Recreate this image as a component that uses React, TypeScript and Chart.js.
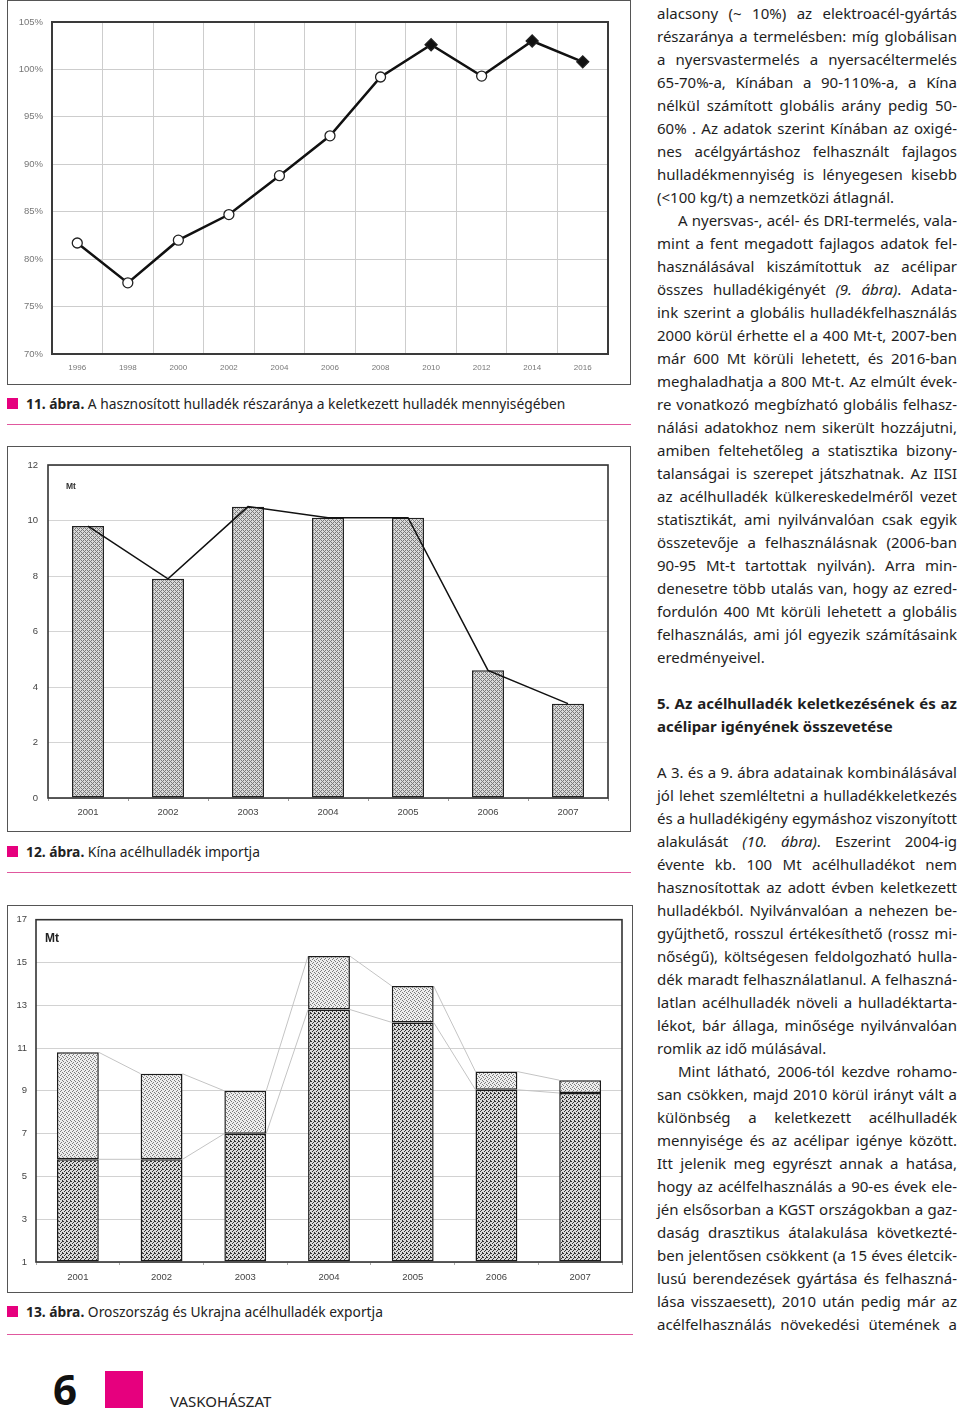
import React, { useEffect, useLayoutEffect, useRef } from 'react';
import { Chart, registerables } from 'chart.js';

Chart.register(...registerables);

// ---------- DATA ----------
// 11. ábra – share of recycled scrap (%)
const recycleYears = ['1996', '1998', '2000', '2002', '2004', '2006', '2008', '2010', '2012', '2014', '2016'];
const recycleShare = [81.7, 77.5, 82.0, 84.7, 88.8, 93.0, 99.2, 102.6, 99.3, 103.0, 100.8];
const recycleFilled = [false, false, false, false, false, false, false, true, false, true, true];
const shareMin = 70;
const shareMax = 105;
const shareStep = 5;

// 12. ábra – China scrap import (Mt)
const importYears = ['2001', '2002', '2003', '2004', '2005', '2006', '2007'];
const chinaImport = [9.8, 7.9, 10.5, 10.1, 10.1, 4.6, 3.4];
const importMin = 0;
const importMax = 12;
const importStep = 2;

// 13. ábra – Russia & Ukraine scrap export (Mt)
const exportYears = ['2001', '2002', '2003', '2004', '2005', '2006', '2007'];
const exportLower = [5.8, 5.8, 7.0, 12.8, 12.2, 9.05, 8.9];
const exportUpper = [5.0, 4.0, 2.0, 2.5, 1.7, 0.85, 0.6];
const exportMin = 1;
const exportMax = 17;
const exportStep = 2;

// ---------- TEXT ----------
type Kind = 'j' | 'l' | 'i' | 'h' | 'hl' | 'blank';
const columnLines: [string, Kind][] = [
  ['alacsony (~ 10%) az elektroacél-gyártás', 'j'],
  ['részaránya a termelésben: míg globálisan', 'j'],
  ['a nyersvastermelés a nyersacéltermelés', 'j'],
  ['65-70%-a, Kínában a 90-110%-a, a Kína', 'j'],
  ['nélkül számított  globális arány pedig 50-', 'j'],
  ['60% . Az adatok szerint Kínában az oxigé-', 'j'],
  ['nes acélgyártáshoz felhasznált fajlagos', 'j'],
  ['hulladékmennyiség is lényegesen kisebb', 'j'],
  ['(<100 kg/t) a nemzetközi átlagnál.', 'l'],
  ['A nyersvas-, acél- és DRI-termelés, vala-', 'i'],
  ['mint a fent megadott fajlagos adatok fel-', 'j'],
  ['használásával kiszámítottuk az acélipar', 'j'],
  ['összes hulladékigényét (9. ábra). Adata-', 'j'],
  ['ink szerint a globális hulladékfelhasználás', 'j'],
  ['2000 körül érhette el a 400 Mt-t, 2007-ben', 'j'],
  ['már 600 Mt körüli lehetett, és 2016-ban', 'j'],
  ['meghaladhatja a 800 Mt-t. Az elmúlt évek-', 'j'],
  ['re vonatkozó megbízható globális felhasz-', 'j'],
  ['nálási adatokhoz nem sikerült hozzájutni,', 'j'],
  ['amiben feltehetőleg a statisztika bizony-', 'j'],
  ['talanságai is szerepet játszhatnak. Az IISI', 'j'],
  ['az acélhulladék külkereskedelméről vezet', 'j'],
  ['statisztikát, ami nyilvánvalóan csak egyik', 'j'],
  ['összetevője a felhasználásnak (2006-ban', 'j'],
  ['90-95 Mt-t tartottak nyilván). Arra min-', 'j'],
  ['denesetre több utalás van, hogy az ezred-', 'j'],
  ['fordulón 400 Mt körüli lehetett a globális', 'j'],
  ['felhasználás, ami jól egyezik számításaink', 'j'],
  ['eredményeivel.', 'l'],
  ['', 'blank'],
  ['5. Az acélhulladék keletkezésének és az', 'h'],
  ['acélipar igényének összevetése', 'hl'],
  ['', 'blank'],
  ['A 3. és a 9. ábra adatainak kombinálásával', 'j'],
  ['jól lehet szemléltetni a hulladékkeletkezés', 'j'],
  ['és a hulladékigény egymáshoz viszonyított', 'j'],
  ['alakulását (10. ábra). Eszerint  2004-ig', 'j'],
  ['évente kb. 100 Mt acélhulladékot nem', 'j'],
  ['hasznosítottak az adott évben keletkezett', 'j'],
  ['hulladékból. Nyilvánvalóan a nehezen be-', 'j'],
  ['gyűjthető, rosszul értékesíthető (rossz mi-', 'j'],
  ['nőségű), költségesen feldolgozható hulla-', 'j'],
  ['dék maradt felhasználatlanul. A felhaszná-', 'j'],
  ['latlan acélhulladék növeli a hulladéktarta-', 'j'],
  ['lékot, bár állaga, minősége nyilvánvalóan', 'j'],
  ['romlik az idő múlásával.', 'l'],
  ['Mint látható, 2006-tól kezdve rohamo-', 'i'],
  ['san csökken, majd 2010 körül irányt vált a', 'j'],
  ['különbség a keletkezett acélhulladék', 'j'],
  ['mennyisége és az acélipar igénye között.', 'j'],
  ['Itt jelenik meg egyrészt annak a hatása,', 'j'],
  ['hogy az acélfelhasználás a 90-es évek ele-', 'j'],
  ['jén elsősorban a KGST országokban a gaz-', 'j'],
  ['daság drasztikus átalakulása következté-', 'j'],
  ['ben jelentősen csökkent (a 15 éves életcik-', 'j'],
  ['lusú berendezések gyártása és felhaszná-', 'j'],
  ['lása visszaesett), 2010 után pedig már az', 'j'],
  ['acélfelhasználás növekedési ütemének a', 'j'],
];

const PINK = '#e6007e';
const TICK_FONT = 'Liberation Sans, Arial, sans-serif';

// ---------- helpers ----------
function makePattern(bg: string, fg: string, cells: number[][], size = 4) {
  const c = document.createElement('canvas');
  c.width = size;
  c.height = size;
  const g = c.getContext('2d')!;
  g.fillStyle = bg;
  g.fillRect(0, 0, size, size);
  g.fillStyle = fg;
  cells.forEach(([x, y]) => g.fillRect(x, y, 1, 1));
  return g.createPattern(c, 'repeat')!;
}

function framePlugin(color: string, width: number) {
  return {
    id: 'plotFrame',
    afterDatasetsDraw(chart: any) {
      const { ctx, chartArea: a } = chart;
      ctx.save();
      ctx.strokeStyle = color;
      ctx.lineWidth = width;
      ctx.strokeRect(a.left, a.top, a.right - a.left, a.bottom - a.top);
      ctx.restore();
    },
  };
}

const seriesLinesPlugin = {
  id: 'seriesLines',
  beforeDatasetsDraw(chart: any) {
    const ctx = chart.ctx;
    ctx.save();
    ctx.strokeStyle = '#c4c4c4';
    ctx.lineWidth = 1;
    chart.data.datasets.forEach((_ds: any, di: number) => {
      const els = chart.getDatasetMeta(di).data;
      for (let i = 0; i < els.length - 1; i++) {
        const a = els[i];
        const b = els[i + 1];
        ctx.beginPath();
        ctx.moveTo(a.x + a.width / 2, a.y);
        ctx.lineTo(b.x - b.width / 2, b.y);
        ctx.stroke();
      }
    });
    ctx.restore();
  },
};

function ChartCanvas(props: { left: number; top: number; width: number; height: number; build: () => any }) {
  const ref = useRef<HTMLCanvasElement>(null);
  useEffect(() => {
    const chart = new Chart(ref.current!, props.build());
    return () => chart.destroy();
  }, []);
  return (
    <canvas
      ref={ref}
      width={props.width}
      height={props.height}
      style={{ position: 'absolute', left: props.left, top: props.top, width: props.width, height: props.height }}
    />
  );
}

// ---------- chart configs ----------
function buildRecycle() {
  return {
    type: 'line',
    data: {
      labels: recycleYears,
      datasets: [
        {
          data: recycleShare,
          borderColor: '#111',
          borderWidth: 2.5,
          pointStyle: recycleFilled.map((f) => (f ? 'rectRot' : 'circle')),
          pointRadius: recycleFilled.map((f) => (f ? 6 : 5)),
          pointBackgroundColor: recycleFilled.map((f) => (f ? '#111' : '#fff')),
          pointBorderColor: '#222',
          pointBorderWidth: 1.3,
          tension: 0,
        },
      ],
    },
    options: {
      responsive: false,
      animation: false,
      devicePixelRatio: 1,
      layout: { padding: { top: 22, right: 23, left: 0, bottom: 0 } },
      plugins: { legend: { display: false }, tooltip: { enabled: false } },
      scales: {
        x: {
          offset: true,
          grid: { offset: true, color: '#cdcdcd', drawTicks: false },
          border: { display: false },
          ticks: { padding: 9, color: '#777', font: { family: TICK_FONT, size: 8 } },
          afterFit: (s: any) => { s.height = 30; },
        },
        y: {
          min: shareMin,
          max: shareMax,
          grid: { color: '#cdcdcd', drawTicks: false },
          border: { display: false },
          ticks: {
            stepSize: shareStep,
            padding: 9,
            color: '#777',
            font: { family: TICK_FONT, size: 9.5 },
            callback: (v: any) => v + '%',
          },
          afterFit: (s: any) => { s.width = 45; },
        },
      },
    },
    plugins: [framePlugin('#3a3a3a', 2)],
  };
}

function buildImport() {
  const hatch = makePattern('#d9d9d9', '#7a7a7a', [[0, 0], [1, 1], [2, 2], [3, 3], [2, 0], [0, 2]]);
  return {
    type: 'bar',
    data: {
      labels: importYears,
      datasets: [
        {
          type: 'line',
          data: chinaImport,
          borderColor: '#111',
          borderWidth: 1.5,
          pointRadius: 0,
          tension: 0,
          order: 0,
        },
        {
          type: 'bar',
          data: chinaImport,
          backgroundColor: hatch,
          borderColor: '#222',
          borderWidth: 1.5,
          borderSkipped: false,
          categoryPercentage: 1,
          barPercentage: 0.4,
          order: 1,
        },
      ],
    },
    options: {
      responsive: false,
      animation: false,
      devicePixelRatio: 1,
      layout: { padding: { top: 19, right: 23, left: 0, bottom: 0 } },
      plugins: { legend: { display: false }, tooltip: { enabled: false } },
      scales: {
        x: {
          grid: { offset: true, drawOnChartArea: false, drawTicks: true, tickLength: 3, color: '#999' },
          border: { display: false },
          ticks: { padding: 6, color: '#444', font: { family: TICK_FONT, size: 9.5 } },
          afterFit: (s: any) => { s.height = 33; },
        },
        y: {
          min: importMin,
          max: importMax,
          grid: { color: '#d4d4d4', drawTicks: false },
          border: { display: false },
          ticks: { stepSize: importStep, padding: 10, color: '#444', font: { family: TICK_FONT, size: 9.5 } },
          afterFit: (s: any) => { s.width = 41; },
        },
      },
    },
    plugins: [framePlugin('#333', 1.6)],
  };
}

function buildExport() {
  const dense = makePattern('#dadada', '#333', [[0, 0], [2, 1], [1, 2], [3, 3], [3, 0]]);
  const light = makePattern('#ededed', '#7c7c7c', [[0, 0], [2, 1], [1, 2], [3, 3]]);
  return {
    type: 'bar',
    data: {
      labels: exportYears,
      datasets: [
        {
          data: exportLower,
          base: exportMin,
          backgroundColor: dense,
          borderColor: '#1a1a1a',
          borderWidth: 1.5,
          borderSkipped: false,
          categoryPercentage: 1,
          barPercentage: 0.5,
        },
        {
          data: exportUpper,
          backgroundColor: light,
          borderColor: '#1a1a1a',
          borderWidth: 1.5,
          borderSkipped: false,
          categoryPercentage: 1,
          barPercentage: 0.5,
        },
      ],
    },
    options: {
      responsive: false,
      animation: false,
      devicePixelRatio: 1,
      layout: { padding: { top: 13, right: 11, left: 0, bottom: 0 } },
      plugins: { legend: { display: false }, tooltip: { enabled: false } },
      scales: {
        x: {
          stacked: true,
          grid: { offset: true, drawOnChartArea: false, drawTicks: true, tickLength: 3, color: '#aaa' },
          border: { display: false },
          ticks: { padding: 7, color: '#444', font: { family: TICK_FONT, size: 9.5 } },
          afterFit: (s: any) => { s.height = 30; },
        },
        y: {
          stacked: true,
          min: exportMin,
          max: exportMax,
          grid: { color: '#d2d2d2', drawTicks: false },
          border: { display: false },
          ticks: { stepSize: exportStep, padding: 9, color: '#444', font: { family: TICK_FONT, size: 9.5 } },
          afterFit: (s: any) => { s.width = 29; },
        },
      },
    },
    plugins: [seriesLinesPlugin, framePlugin('#333', 1.6)],
  };
}

// ---------- layout pieces ----------
function Frame(p: { left: number; top: number; width: number; height: number }) {
  return (
    <div
      style={{
        position: 'absolute',
        left: p.left,
        top: p.top,
        width: p.width - 2,
        height: p.height - 2,
        border: '1px solid #555',
      }}
    />
  );
}

function Caption(p: { top: number; num: string; text: string; lineTop: number; lineWidth: number }) {
  return (
    <>
      <div style={{ position: 'absolute', left: 7, top: p.top - 6, width: 11, height: 11, background: PINK }} />
      <div
        style={{
          position: 'absolute',
          left: 26,
          top: p.top - 10,
          fontSize: 13.8,
          lineHeight: '20px',
          whiteSpace: 'nowrap',
          color: '#222',
        }}
      >
        <b>{p.num}</b> {p.text}
      </div>
      <div style={{ position: 'absolute', left: 7, top: p.lineTop, width: p.lineWidth, height: 1, background: '#e0589e' }} />
    </>
  );
}

function renderLine(text: string) {
  const parts = text.split(/(\(\d+\. ábra\))/);
  return parts.map((t, i) => (/^\(\d+\. ábra\)$/.test(t) ? <i key={i}>{t}</i> : <React.Fragment key={i}>{t}</React.Fragment>));
}

function TextColumn() {
  const ref = useRef<HTMLDivElement>(null);
  useLayoutEffect(() => {
    const el = ref.current!;
    const lines = Array.from(el.querySelectorAll('[data-line]')) as HTMLDivElement[];
    lines.forEach((ln) => {
      let ls = 0;
      let guard = 0;
      while (ln.offsetHeight > 24 && guard < 40) {
        ls -= 0.05;
        ln.style.letterSpacing = ls + 'px';
        guard++;
      }
    });
  }, []);
  return (
    <div
      ref={ref}
      style={{ position: 'absolute', left: 657, top: 2, width: 300, fontSize: 15, lineHeight: '23px', color: '#1e1e1e' }}
    >
      {columnLines.map(([t, k], i) => {
        if (k === 'blank') return <div key={i} style={{ height: 23 }} />;
        const justify = k === 'j' || k === 'i' || k === 'h';
        return (
          <div
            key={i}
            data-line="1"
            style={{
              textAlign: 'justify',
              textAlignLast: justify ? 'justify' : 'left',
              textIndent: k === 'i' ? 21 : 0,
              fontWeight: k === 'h' || k === 'hl' ? 700 : 400,
            }}
          >
            {renderLine(t)}
          </div>
        );
      })}
    </div>
  );
}

export default function App() {
  return (
    <div
      style={{
        position: 'absolute',
        left: 0,
        top: 0,
        width: 960,
        height: 1410,
        background: '#fff',
        fontFamily: '"Noto Sans", sans-serif',
        overflow: 'hidden',
      }}
    >
      {/* 11. ábra */}
      <Frame left={7} top={0} width={624} height={385} />
      <ChartCanvas left={7} top={0} width={624} height={384} build={buildRecycle} />
      <Caption top={404} num="11. ábra." text="A hasznosított hulladék részaránya a keletkezett hulladék mennyiségében" lineTop={424} lineWidth={624} />

      {/* 12. ábra */}
      <Frame left={7} top={446} width={624} height={386} />
      <ChartCanvas left={7} top={446} width={624} height={385} build={buildImport} />
      <div style={{ position: 'absolute', left: 66, top: 481, fontFamily: TICK_FONT, fontSize: 8.5, fontWeight: 700, color: '#333' }}>Mt</div>
      <Caption top={852} num="12. ábra." text="Kína acélhulladék importja" lineTop={872} lineWidth={624} />

      {/* 13. ábra */}
      <Frame left={7} top={905} width={626} height={388} />
      <ChartCanvas left={7} top={905} width={626} height={387} build={buildExport} />
      <div style={{ position: 'absolute', left: 45, top: 931, fontFamily: TICK_FONT, fontSize: 12, fontWeight: 700, color: '#222' }}>Mt</div>
      <Caption top={1312} num="13. ábra." text="Oroszország és Ukrajna acélhulladék exportja" lineTop={1334} lineWidth={626} />

      <TextColumn />

      {/* footer */}
      <div style={{ position: 'absolute', left: 53, top: 1364, fontSize: 42, fontWeight: 700, lineHeight: '50px', color: '#111' }}>6</div>
      <div style={{ position: 'absolute', left: 105, top: 1371, width: 38, height: 37, background: PINK }} />
      <div style={{ position: 'absolute', left: 170, top: 1391, fontSize: 15, lineHeight: '20px', color: '#222', letterSpacing: 0 }}>VASKOHÁSZAT</div>
    </div>
  );
}
